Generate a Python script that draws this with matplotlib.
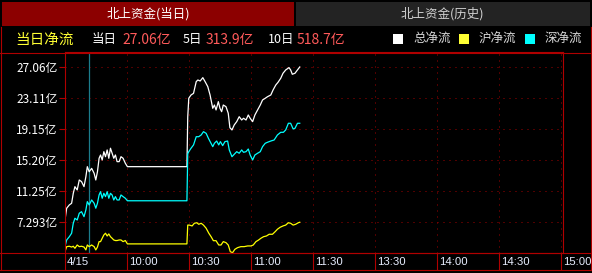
import matplotlib
matplotlib.use("Agg")
import matplotlib.pyplot as plt
from matplotlib.patches import Rectangle
from matplotlib.lines import Line2D
from matplotlib import transforms

plt.rcParams['font.family'] = ['Noto Sans CJK SC', 'DejaVu Sans']

W, H = 592, 273
RED = "#b00000"
DOT = "#a00000"

# minutes after 9:30 (13:00 continues at 120)
T_EARLY = [0, 0.8, 2.1, 3.2, 4.0, 4.8, 5.9, 6.9, 8.0, 9.2, 10.1, 10.8, 11.7, 12.9,
           14.1, 14.9, 15.7, 16.5, 17.2, 18.0, 18.8, 19.6, 20.4, 21.2, 22.0, 22.8,
           23.6, 24.4, 25.2, 26.2, 27.1, 28.1, 29.2, 30.2, 59.0]
TOTAL_EARLY = [7.55, 9.05, 9.47, 9.68, 10.95, 11.8, 11.38, 12.65, 12.44, 11.8, 13.07,
               14.35, 13.7, 14.13, 13.5, 12.65, 13.7, 15.42, 15.84, 15.2, 16.26, 15.62,
               16.48, 15.42, 16.7, 16.06, 15.42, 15.84, 14.99, 14.99, 15.62, 15.42,
               14.78, 14.35, 14.35]
SZ_EARLY = [4.15, 5.0, 5.42, 5.86, 7.13, 7.77, 7.55, 8.41, 8.61, 7.97, 8.83, 9.89, 9.47,
            10.1, 9.68, 9.05, 9.68, 10.74, 11.16, 10.32, 10.95, 10.53, 11.16, 10.32,
            10.95, 10.74, 10.1, 10.53, 10.1, 10.1, 10.74, 10.53, 10.32, 10.0, 10.0]
SH_EARLY = [3.51, 4.15, 4.2, 4.1, 4.2, 3.94, 4.36, 4.15, 4.2, 4.1, 3.73, 4.36, 4.15, 4.36,
            4.15, 3.73, 4.1, 4.79, 4.79, 5.22, 5.64, 5.86, 5.51, 5.77, 5.42, 5.22, 5.0,
            4.93, 4.93, 5.0, 5.0, 4.79, 4.93, 4.5, 4.5]

TOTAL_LATE_T = [59.4, 59.9, 61.0, 62.2, 63.5, 64.3, 65.4, 66.7, 67.8, 69.1, 70.2, 71.5,
                72.3, 73.1, 74.2, 75.0, 75.8, 76.6, 77.9, 79.0, 79.8, 80.8, 81.9, 83.1,
                84.3, 85.5, 86.4, 87.6, 88.7, 89.6, 90.8, 91.9, 93.2, 94.5, 95.6, 96.9,
                98.0, 99.6, 100.7, 102.0, 103.1, 104.4, 105.5, 106.8, 108.4, 109.2,
                110.0, 111.3, 112.5, 113.6]
TOTAL_LATE = [20.7, 23.07, 23.49, 23.7, 25.19, 25.4, 25.27, 25.7, 25.19, 24.55, 23.49,
              21.79, 22.21, 21.58, 22.64, 21.79, 21.36, 22.21, 22.0, 21.16, 19.32, 19.03,
              19.67, 20.09, 20.72, 20.3, 20.52, 20.3, 20.94, 20.52, 20.09, 20.94, 21.58,
              22.21, 22.85, 23.07, 23.27, 23.49, 24.13, 24.76, 25.11, 25.62, 26.26,
              26.68, 26.98, 26.68, 26.13, 26.26, 26.68, 27.06]

SZ_LATE_T = [59.4, 59.9, 61.0, 62.2, 63.5, 64.7, 65.9, 67.0, 68.3, 69.4, 70.4, 71.5, 72.3,
             73.4, 74.4, 75.2, 76.3, 77.4, 78.7, 79.5, 80.8, 81.9, 83.1, 84.3, 85.5, 86.4,
             87.6, 88.7, 89.6, 90.8, 91.9, 93.2, 94.5, 95.6, 96.9, 98.0, 99.6, 101.2,
             102.8, 104.4, 105.7, 106.8, 108.1, 109.2, 110.4, 111.3, 112.5, 113.6]
SZ_LATE = [16.0, 16.26, 16.7, 17.12, 18.17, 18.17, 18.39, 18.81, 18.6, 17.97, 17.46, 16.9,
           17.33, 17.62, 17.12, 17.54, 17.03, 17.54, 17.62, 16.48, 15.62, 15.93, 16.26,
           16.06, 16.48, 16.18, 16.26, 16.6, 15.84, 15.2, 15.84, 16.06, 16.26, 16.9,
           17.33, 17.46, 17.62, 17.75, 18.39, 18.73, 18.73, 19.03, 19.88, 19.88, 19.16,
           19.24, 19.88, 19.88]

SH_LATE_T = [59.4, 60.2, 61.5, 62.6, 63.8, 64.7, 65.9, 67.0, 68.3, 69.6, 70.7, 71.8, 73.1,
             74.4, 75.5, 76.6, 77.9, 79.0, 80.0, 81.1, 82.2, 83.5, 85.1, 86.7, 88.4, 90.0,
             91.1, 92.4, 93.7, 94.8, 96.1, 97.5, 98.8, 100.4, 101.7, 102.8, 104.1, 105.5,
             106.8, 108.1, 109.2, 110.4, 111.6, 112.9, 113.6]
SH_LATE = [6.9, 6.9, 6.79, 7.13, 7.2, 7.0, 7.13, 6.9, 6.5, 5.86, 5.42, 4.91, 4.91, 4.36,
           4.36, 4.79, 4.66, 4.36, 3.51, 3.38, 3.81, 4.02, 4.15, 4.15, 4.24, 4.24, 4.36,
           4.79, 5.0, 5.22, 5.42, 5.51, 5.73, 5.73, 6.06, 6.37, 6.62, 6.79, 6.9, 7.2,
           7.13, 6.9, 7.0, 7.2, 7.26]

Y_TICKS = [7.293, 11.25, 15.20, 19.15, 23.11, 27.06]
Y_LABELS = ["7.293亿", "11.25亿", "15.20亿", "19.15亿", "23.11亿", "27.06亿"]
X_TICKS = [0, 30, 60, 90, 120, 150, 180, 210, 240]
X_LABELS = ["4/15", "10:00", "10:30", "11:00", "11:30", "13:30", "14:00", "14:30", "15:00"]
CURSOR_MIN = 11.6

FLOW_DAY, FLOW_5D, FLOW_10D = "27.06亿", "313.9亿", "518.7亿"


def fx(x):
    return x / W


def fy(y):
    return 1 - y / H


fig = plt.figure(figsize=(W / 100, H / 100), dpi=100, facecolor="black")

# tabs
fig.add_artist(Rectangle((fx(2), fy(26)), fx(294) - fx(2), fy(2) - fy(26),
                         transform=fig.transFigure, fc="#8c0000", ec="none"))
fig.add_artist(Rectangle((fx(296), fy(26)), fx(590) - fx(296), fy(2) - fy(26),
                         transform=fig.transFigure, fc="#232323", ec="none"))
fig.text(fx(148), fy(14), "北上资金(当日)", color="white", fontsize=9, ha="center", va="center")
fig.text(fx(442), fy(14), "北上资金(历史)", color="#d0d0d0", fontsize=9, ha="center", va="center")

# header row
fig.text(fx(15), fy(40), "当日净流", color="#ffff33", fontsize=10.5, va="center")
fig.text(fx(92), fy(40), "当日", color="white", fontsize=9, va="center")
fig.text(fx(122), fy(40), FLOW_DAY, color="#ff5a5a", fontsize=10, va="center")
fig.text(fx(183), fy(40), "5日", color="white", fontsize=9, va="center")
fig.text(fx(206), fy(40), FLOW_5D, color="#ff5a5a", fontsize=10, va="center")
fig.text(fx(268), fy(40), "10日", color="white", fontsize=9, va="center")
fig.text(fx(297), fy(40), FLOW_10D, color="#ff5a5a", fontsize=10, va="center")
for x0, c, lbl in [(393, "white", "总净流"), (459, "#ffff33", "沪净流"), (525, "#00ffff", "深净流")]:
    fig.add_artist(Rectangle((fx(x0), fy(44)), fx(10), fy(34) - fy(44),
                             transform=fig.transFigure, fc=c, ec="none"))
    fig.text(fx(x0 + 20), fy(39.5), lbl, color="#d8d8d8", fontsize=9, va="center")

# frame lines
for y in (52.5, 253, 270):
    fig.add_artist(Line2D([0, 1], [fy(y), fy(y)], transform=fig.transFigure, color=RED, lw=0.8))
for x in (1, 590.5):
    fig.add_artist(Line2D([fx(x), fx(x)], [fy(27), fy(270)], transform=fig.transFigure,
                          color=RED, lw=0.8))

ax = fig.add_axes([fx(65), fy(253), fx(563) - fx(65), fy(52) - fy(253)])
ax.set_facecolor("black")
ax.set_xlim(0, 241)
ax.set_ylim(3.34, 28.97)
for s in ax.spines.values():
    s.set_color(RED)
    s.set_linewidth(0.8)

for v in Y_TICKS:
    ax.axhline(v, color=DOT, lw=0.72, ls=(0, (1, 5)))
for t in X_TICKS[1:]:
    ax.axvline(t, color=DOT, lw=0.72, ls=(0, (1, 5)))
ax.axvline(CURSOR_MIN, color="#1c7c8c", lw=0.9)

ax.plot(T_EARLY + TOTAL_LATE_T, TOTAL_EARLY + TOTAL_LATE, color="white", lw=0.9)
ax.plot(T_EARLY + SZ_LATE_T, SZ_EARLY + SZ_LATE, color="#00ffff", lw=0.9)
ax.plot(T_EARLY + SH_LATE_T, SH_EARLY + SH_LATE, color="#ffff00", lw=0.9)

ax.set_yticks(Y_TICKS, labels=Y_LABELS)
ax.tick_params(axis="y", colors=RED, labelcolor="white", length=4.3, width=0.8, pad=1,
               labelsize=8.5)
ax.set_xticks(X_TICKS)
ax.tick_params(axis="x", colors=RED, length=12.3, width=0.8, labelbottom=False)

trans = transforms.offset_copy(ax.get_xaxis_transform(), fig=fig, x=2, y=0, units="dots")
for t, lbl in zip(X_TICKS, X_LABELS):
    ax.text(t, -0.045, lbl, transform=trans, color="#e8eeff", fontsize=8.2,
            family="Liberation Sans", ha="left", va="center", clip_on=False)

fig.savefig("out.png", dpi=100, facecolor="black")
